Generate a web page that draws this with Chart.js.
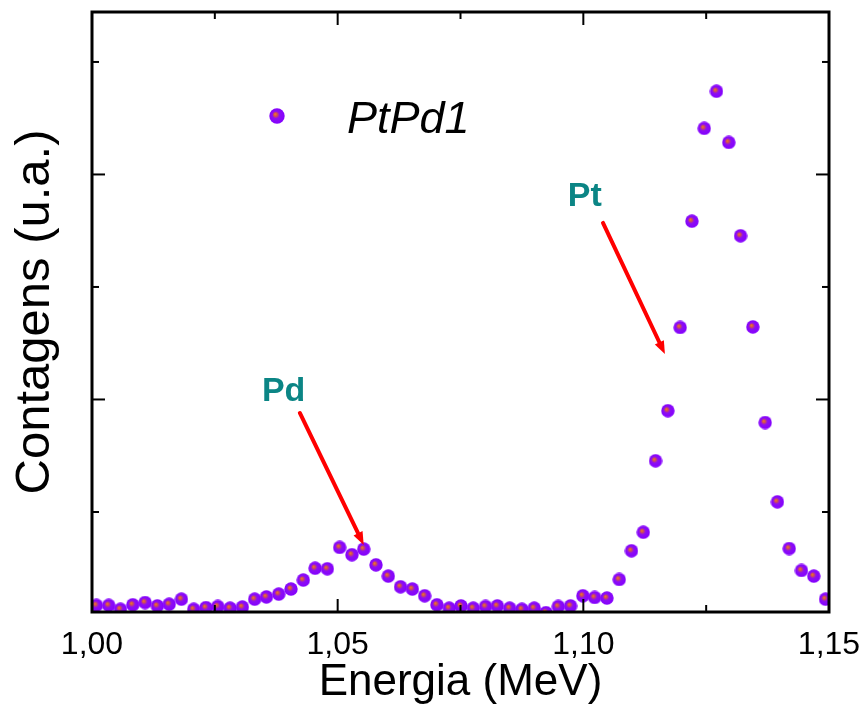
<!DOCTYPE html>
<html>
<head>
<meta charset="utf-8">
<script src="https://cdn.jsdelivr.net/npm/chart.js@4.4.1/dist/chart.umd.min.js"></script>
<style>
    html, body { margin: 0; padding: 0; background: #fff; }
    #wrap { width: 866px; height: 704px; }
</style>
</head>
<body>
<div id="wrap"><canvas id="chart" width="866" height="704"></canvas></div>
<script>
// ===============================
// DATA
// ===============================
const energy = [
    1.0009, 1.0034, 1.0058, 1.0083, 1.0108, 1.0133, 1.0157, 1.0182, 1.0207, 1.0232,
    1.0256, 1.0281, 1.0306, 1.0331, 1.0355, 1.0380, 1.0405, 1.0430, 1.0454, 1.0479,
    1.0504, 1.0529, 1.0553, 1.0578, 1.0603, 1.0628, 1.0652, 1.0677, 1.0702, 1.0727,
    1.0751, 1.0776, 1.0801, 1.0825, 1.0850, 1.0875, 1.0900, 1.0924, 1.0949, 1.0974,
    1.0999, 1.1023, 1.1048, 1.1073, 1.1098, 1.1122, 1.1147, 1.1172, 1.1197, 1.1221,
    1.1246, 1.1271, 1.1296, 1.1320, 1.1345, 1.1370, 1.1395, 1.1419, 1.1444, 1.1469,
    1.1493
];
const counts = [
    170, 170, 135, 175, 195, 165, 180, 225, 135, 150,
    160, 145, 155, 225, 245, 270, 315, 395, 500, 495,
    685, 620, 670, 530, 430, 335, 315, 255, 175, 145,
    165, 145, 160, 165, 145, 135, 145, 105, 160, 165,
    255, 240, 235, 400, 655, 820, 1455, 1900, 2640, 3585,
    4410, 4740, 4285, 3455, 2645, 1795, 1090, 675, 480, 430,
    225
];

const xMajorTicks = [1.00, 1.05, 1.10, 1.15];
const xMinorTicks = [1.025, 1.075, 1.125];
const yMajorTicks = [2000, 4000];
const yMinorTicks = [1000, 3000, 5000];

const seriesName = "PtPd1";

// peak labels: [text, labelX, labelY, arrowFromX, arrowFromY, arrowToX, arrowToY]
const peakLabels = [
    ["Pd", 1.0390, 2070, 1.0423, 1880, 1.0553, 707],
    ["Pt", 1.1003, 3800, 1.1040, 3569, 1.1166, 2404]
];

const FONT = '"Liberation Sans", Arial, sans-serif';

// ===============================
// SPHERE MARKER
// ===============================
function makeSphere(d) {
    const c = document.createElement("canvas");
    c.width = d; c.height = d;
    const g = c.getContext("2d");
    const r = d / 2;
    const grad = g.createRadialGradient(r - d * 0.12, r - d * 0.12, 0, r, r, r);
    grad.addColorStop(0, "#f27a2a");
    grad.addColorStop(0.22, "#d2504e");
    grad.addColorStop(0.45, "#8c0ef2");
    grad.addColorStop(1, "#8400ff");
    g.fillStyle = grad;
    g.beginPath();
    g.arc(r, r, r - 0.3, 0, Math.PI * 2);
    g.fill();
    return c;
}
const sphere = makeSphere(14);
const legendSphere = makeSphere(16);

// ===============================
// PLUGIN: frame, inward ticks, legend, arrows
// ===============================
const decorPlugin = {
    id: "decor",
    beforeDraw(chart) {
        const ctx = chart.ctx;
        ctx.save();
        ctx.fillStyle = "#fff";
        ctx.fillRect(0, 0, chart.width, chart.height);
        ctx.restore();
    },
    afterDatasetsDraw(chart) {
        const ctx = chart.ctx;
        const a = chart.chartArea;
        const xs = chart.scales.x;
        const ys = chart.scales.y;
        ctx.save();

        ctx.strokeStyle = "#000";
        ctx.lineWidth = 2;
        const tick = (x1, y1, x2, y2) => {
            ctx.beginPath(); ctx.moveTo(x1, y1); ctx.lineTo(x2, y2); ctx.stroke();
        };
        xMajorTicks.forEach(v => {
            const px = xs.getPixelForValue(v);
            tick(px, a.bottom, px, a.bottom - 13);
            tick(px, a.top, px, a.top + 13);
        });
        xMinorTicks.forEach(v => {
            const px = xs.getPixelForValue(v);
            tick(px, a.bottom, px, a.bottom - 7);
            tick(px, a.top, px, a.top + 7);
        });
        yMajorTicks.forEach(v => {
            const py = ys.getPixelForValue(v);
            tick(a.left, py, a.left + 13, py);
            tick(a.right, py, a.right - 13, py);
        });
        yMinorTicks.forEach(v => {
            const py = ys.getPixelForValue(v);
            tick(a.left, py, a.left + 7, py);
            tick(a.right, py, a.right - 7, py);
        });

        ctx.lineWidth = 3;
        ctx.strokeRect(a.left, a.top, a.right - a.left, a.bottom - a.top);

        // legend
        ctx.drawImage(legendSphere, 277 - 8, 116 - 8);
        ctx.fillStyle = "#000";
        ctx.font = "italic 45px " + FONT;
        ctx.textBaseline = "alphabetic";
        ctx.textAlign = "left";
        ctx.fillText(seriesName, 347, 133);

        // peak labels + arrows
        peakLabels.forEach(p => {
            const lx = xs.getPixelForValue(p[1]);
            const ly = ys.getPixelForValue(p[2]);
            ctx.fillStyle = "#0b8585";
            ctx.font = "bold 34px " + FONT;
            ctx.textAlign = "center";
            ctx.textBaseline = "middle";
            ctx.fillText(p[0], lx, ly);

            const x1 = xs.getPixelForValue(p[3]), y1 = ys.getPixelForValue(p[4]);
            const x2 = xs.getPixelForValue(p[5]), y2 = ys.getPixelForValue(p[6]);
            const ang = Math.atan2(y2 - y1, x2 - x1);
            const hl = 13, hw = 5;
            const bx = x2 - hl * Math.cos(ang), by = y2 - hl * Math.sin(ang);
            ctx.strokeStyle = "#ff0000";
            ctx.fillStyle = "#ff0000";
            ctx.lineWidth = 4;
            ctx.lineCap = "round";
            ctx.beginPath(); ctx.moveTo(x1, y1); ctx.lineTo(bx, by); ctx.stroke();
            ctx.beginPath();
            ctx.moveTo(x2, y2);
            ctx.lineTo(bx + hw * Math.sin(ang), by - hw * Math.cos(ang));
            ctx.lineTo(bx - hw * Math.sin(ang), by + hw * Math.cos(ang));
            ctx.closePath();
            ctx.fill();
        });
        ctx.restore();
    }
};

// ===============================
// CHART
// ===============================
const points = energy.map((e, i) => ({ x: e, y: counts[i] }));

new Chart(document.getElementById("chart"), {
    type: "scatter",
    data: {
        datasets: [{
            label: seriesName,
            data: points,
            pointStyle: sphere,
            pointRadius: 7,
            showLine: false,
            clip: 0
        }]
    },
    options: {
        responsive: false,
        animation: false,
        layout: { padding: { top: 12, right: 37, left: 0, bottom: 0 } },
        plugins: { legend: { display: false }, tooltip: { enabled: false } },
        scales: {
            x: {
                type: "linear",
                min: 1.00,
                max: 1.15,
                afterBuildTicks: s => { s.ticks = xMajorTicks.map(v => ({ value: v })); },
                afterFit: s => {
                    s.height = 92;
                    s.paddingLeft = 0;
                    s.paddingRight = 0;
                },
                grid: { display: false, drawTicks: false },
                border: { display: false },
                ticks: {
                    color: "#000",
                    padding: 14,
                    font: { family: FONT, size: 32 },
                    callback: v => v.toFixed(2).replace(".", ",")
                },
                title: {
                    display: true,
                    text: "Energia (MeV)",
                    color: "#000",
                    padding: 0,
                    font: { family: FONT, size: 44, lineHeight: 0.95 }
                }
            },
            y: {
                min: 111,
                max: 5444,
                afterFit: s => { s.width = 92; },
                grid: { display: false, drawTicks: false },
                border: { display: false },
                ticks: { display: false },
                title: {
                    display: true,
                    text: "Contagens (u.a.)",
                    color: "#000",
                    padding: 6,
                    font: { family: FONT, size: 49, lineHeight: 1.2 }
                }
            }
        }
    },
    plugins: [decorPlugin]
});
</script>
</body>
</html>
